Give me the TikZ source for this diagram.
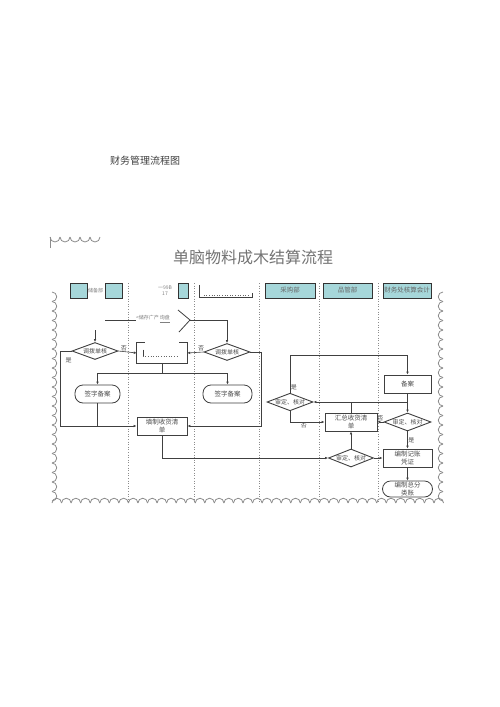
\documentclass[tikz,border=0pt]{standalone}
\usepackage{fontspec}
\newfontfamily\cjk{Noto Sans CJK SC}
\usetikzlibrary{shapes.geometric,arrows.meta,positioning}
\definecolor{headfill}{HTML}{A6D7DA}
\definecolor{inkgray}{HTML}{404040}
\begin{document}
\begin{tikzpicture}[x=1pt, y=-1pt,
  >={Latex[length=3pt,width=2.6pt]},
  wire/.style={draw=inkgray, line width=0.6pt},
  lane/.style={draw=black!45, dotted, line width=0.6pt},
  frame/.style={draw=black!45, line width=0.8pt},
  headbox/.style={draw=black!80, fill=headfill, line width=0.7pt, minimum height=15pt, inner sep=0pt, font=\cjk\fontsize{6.5}{7}\selectfont, text=black!60},
  headtxt/.style={font=\cjk\fontsize{5}{6}\selectfont, text=black!50, align=center, inner sep=0pt},
  lbl/.style={font=\cjk\fontsize{6}{7}\selectfont, text=black!70, inner sep=0.5pt},
  dec/.style={diamond, draw=inkgray, line width=0.9pt, aspect=2.5, inner sep=0pt, minimum width=46pt, minimum height=17pt, font=\cjk\fontsize{6}{7}\selectfont, text=black!70},
  proc/.style={draw=inkgray, line width=0.8pt, minimum width=50pt, minimum height=18pt, inner sep=0pt, align=center, font=\cjk\fontsize{6.5}{7.5}\selectfont, text=black!70},
  term/.style={proc, rounded corners=8pt}
]
\useasboundingbox (0,0) rectangle (500,707);
\fill[white] (0,0) rectangle (500,707);

% titles
\node[font=\cjk\fontsize{10}{12}\selectfont, text=black!75] (pagetitle) at (145,161) {财务管理流程图};
\node[font=\cjk\fontsize{16}{19}\selectfont, text=black!55] (title) at (253,257) {单脑物料成木结算流程};

% scalloped frame
\draw[frame] (50,248) -- (50,237);
\foreach \i in {0,...,4}
  \draw[frame] (50+10*\i,237) arc[start angle=180, end angle=0, radius=5];
\foreach \i in {0,...,21}
  \draw[frame] (52,292+9.5*\i) arc[start angle=-90, end angle=90, radius=4.75];
\foreach \i in {0,...,40}
  \draw[frame] (52+9.55*\i,503) arc[start angle=180, end angle=360, radius=4.775];
\foreach \i in {0,...,21}
  \draw[frame] (443,292+9.5*\i) arc[start angle=270, end angle=90, radius=4.75];

% lanes
\foreach \x in {128,194,259,319,378}
  \draw[lane] (\x,283) -- (\x,503);

% lane heads
\node[headbox, minimum width=17pt] (h1a) at (78.5,290.5) {};
\node[headtxt] (h1t) at (95.5,290.5) {储备部};
\node[headbox, minimum width=17pt] (h1b) at (113.5,290.5) {};
\node[headtxt] (h2t) at (165,291) {一99B\\17};
\node[headbox, minimum width=10pt] (h2b) at (183,290.5) {};
\node[minimum width=52pt, minimum height=12pt, inner sep=0pt] (h3) at (226,291) {};
\draw[wire, line width=0.8pt] (h3.north west) -- (h3.south west) -- (h3.south east) -- ++(0,-4);
\draw[lane, black!60] ([shift={(4,-2)}]h3.south west) -- ([shift={(-4,-2)}]h3.south east);
\node[headbox, minimum width=50pt] (h4) at (290,290.5) {采购部};
\node[headbox, minimum width=49pt] (h5) at (347.5,290.5) {品管部};
\node[headbox, minimum width=48pt] (h6) at (407,290.5) {财务处核算会计};

% inquiry row
\coordinate (inl) at (105,320);
\node[headtxt] (ask) at (153,319) {<储存广产 \underline{询盘}};
\coordinate (chvA) at (178,310);
\coordinate (chv) at (190,320);
\coordinate (chvB) at (179,332);
\coordinate (top1) at (95,330);

% nodes
\node[dec] (d1) at (95,351) {调拨单核};
\node[dec] (d2) at (227,352) {调拨单核};
\node[minimum width=50pt, minimum height=21pt, inner sep=0pt] (b2) at (162,353) {};
\node[term, minimum width=45pt] (s1) at (97.5,394) {签字备案};
\node[term, minimum width=49pt] (s2) at (227.5,394) {签字备案};
\node[proc] (fill) at (162,426) {填制收货清\\单};
\node[dec] (d5) at (290,402) {审定、核对};
\node[proc, minimum width=52pt] (sum) at (351,422) {汇总收货清\\单};
\node[dec, minimum width=45pt, minimum height=18pt] (d3) at (351,458) {审定、核对};
\node[proc, minimum width=47pt] (rec) at (407.5,384) {备案};
\node[dec, minimum width=47pt, minimum height=18pt] (d6) at (407.5,422) {审定、核对};
\node[proc, minimum width=49pt] (vch) at (407.5,458) {编制记账\\凭证};
\node[term, minimum height=16pt] (led) at (407.5,489) {编制总分\\类账};
\node[lbl, below=6pt of d1.west, xshift=-3pt] (yes1) {是};

% open box
\draw[wire, line width=0.8pt] ([xshift=8pt]b2.north west) -- (b2.north west) -- (b2.south west)
  -- (b2.south east) -- (b2.north east) -- ([xshift=-8pt]b2.north east);
\draw[wire, line width=0.4pt] ([shift={(6,-14)}]b2.south west) -- ([shift={(6,-7)}]b2.south west);
\draw[lane, black!60] ([shift={(6,-7)}]b2.south west) -- ([shift={(-9,-7)}]b2.south east);

% connectors
\draw[wire] (inl) -- (ask.west |- inl);
\draw[wire, line width=0.8pt] (chvA) -- (chv) -- (chvB);
\draw[wire, ->] (top1) -- (d1.north);
\draw[wire, ->] (chv) -| (d2.north);
\draw[wire, ->] (d1.east) -- node[lbl, above, pos=0.3] {否} (b2.west);
\draw[wire, ->] (d2.west) -- node[lbl, above, pos=0.15] {否} (b2.east);
\draw[wire, ->] (d1.west) -- ++(-11,0) |- (fill.west);
\draw[wire, ->] (d2.east) -- ++(11,0) |- (fill.east);
\draw[wire] (b2.south) -- ++(0,9.5) coordinate (split);
\draw[wire, ->] (split) -| (s1.north);
\draw[wire, ->] (split) -| (s2.north);
\draw[wire] (s1.south) -- (s1.south |- fill.west);
\draw[wire, ->] (fill.south) |- (d3.west);
\draw[wire, ->] (d3.north) -- (sum.south);
\draw[wire, ->] (d3.east) -- (vch.west);
\draw[wire, ->] (d5.north) -- node[lbl, pos=0.15, right] {是} ++(0,-37) -| (rec.north);
\draw[wire, ->] (d5.south) |- node[lbl, pos=0.7, below] {否} (sum.west);
\draw[wire, ->] (sum.north) |- (d5.east);
\draw[wire] (sum.north |- d5.east) -- (rec.south |- d5.east);
\draw[wire, ->] (rec.south) -- (d6.north);
\draw[wire, ->] (d6.west) -- node[lbl, above] {否} (sum.east);
\draw[wire, ->] (d6.south) -- node[lbl, right] {是} (vch.north);
\draw[wire, ->] (vch.south) -- (led.north);
\end{tikzpicture}
\end{document}
